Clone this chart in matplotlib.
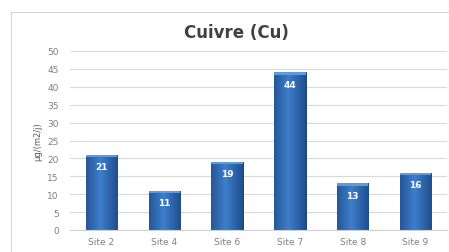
import numpy as np
import matplotlib
matplotlib.use("Agg")
import matplotlib.pyplot as plt
from matplotlib.patches import Rectangle
from matplotlib.lines import Line2D

sites = ["Site 2", "Site 4", "Site 6", "Site 7", "Site 8", "Site 9"]
values = [21, 11, 19, 44, 13, 16]
title = "Cuivre (Cu)"
ylabel = "µg/(m2/j)"
yticks = list(range(0, 55, 5))

W, H = 449, 253
fig = plt.figure(figsize=(W / 100, H / 100), dpi=100)
fig.patch.set_facecolor("white")

# chart frame (left and top edges only visible)
fig.add_artist(Line2D([10.5 / W, 10.5 / W], [0, 1 - 12.5 / H], transform=fig.transFigure,
                      color="#d6d6d6", linewidth=0.8))
fig.add_artist(Line2D([10.5 / W, 1], [1 - 12.5 / H, 1 - 12.5 / H], transform=fig.transFigure,
                      color="#d6d6d6", linewidth=0.8))

ax = fig.add_axes([70 / W, 22 / H, 377 / W, 179 / H])
ax.set_xlim(-0.5, len(sites) - 0.5)
ax.set_ylim(0, 50)
ax.set_yticks(yticks)
ax.grid(axis="y", color="#d9d9d9", linewidth=0.8)
ax.set_axisbelow(True)
for s in ["top", "right", "left"]:
    ax.spines[s].set_visible(False)
ax.spines["bottom"].set_color("#d0d0d0")
ax.spines["bottom"].set_linewidth(0.8)
ax.tick_params(axis="both", length=0, colors="#7f7f7f", labelsize=6.5)
ax.tick_params(axis="y", pad=8)
ax.tick_params(axis="x", pad=5)
ax.set_xticks(range(len(sites)))
ax.set_xticklabels(sites)

# horizontal gradient for bevel look
grad = np.linspace(0, 1, 64)
prof = 1 - np.abs(grad - 0.45) * 1.6
prof = np.clip(prof, 0, 1)
c_dark = np.array([0x1c, 0x48, 0x84]) / 255
c_light = np.array([0x3d, 0x7e, 0xcb]) / 255
img = (c_dark[None, None, :] + (c_light - c_dark)[None, None, :] * prof[None, :, None])
img = np.repeat(img, 2, axis=0)

bw = 0.5
bars = ax.bar(range(len(sites)), values, width=bw, color="#2f6db5",
              edgecolor="#1a4478", linewidth=0.7, zorder=2)
for i, (b, v) in enumerate(zip(bars, values)):
    im = ax.imshow(img, extent=(i - bw / 2, i + bw / 2, 0, v), aspect="auto",
                   zorder=2.5, interpolation="bilinear")
    im.set_clip_path(b)
    ax.add_patch(Rectangle((i - bw / 2, v - 0.6), bw, 0.6, facecolor="#5b9be0",
                           edgecolor="none", zorder=2.6))
    ax.text(i, v - 3.3, str(v), ha="center", va="center", color="white",
            fontsize=6.5, fontweight="bold", zorder=3)

ax.set_ylabel(ylabel, fontsize=6, color="#595959", labelpad=4)
fig.text(236 / W, 1 - 33 / H, title, ha="center", va="center", fontsize=12,
         fontweight="bold", color="#404040")

fig.savefig("out.png", dpi=100)
